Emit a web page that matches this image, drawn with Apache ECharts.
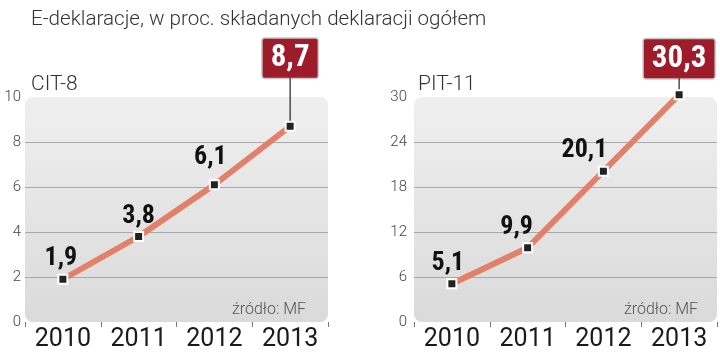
<!DOCTYPE html>
<html>
<head>
<meta charset="utf-8">
<script src="https://cdn.jsdelivr.net/npm/echarts@6/dist/echarts.min.js"></script>
<style>
  html, body { margin: 0; padding: 0; background: #fff; }
  #chart { width: 720px; height: 353px; }
</style>
</head>
<body>
<div id="chart"></div>
<script>
// data
const years = ['2010', '2011', '2012', '2013'];
const citValues = [1.9, 3.8, 6.1, 8.7];
const pitValues = [5.1, 9.9, 20.1, 30.3];
const citTicks = { max: 10, interval: 2 };
const pitTicks = { max: 30, interval: 6 };

// label nudges (px) for the plain value labels
const citOffsets = [[-2, 0], [0, 0], [-4, -7]];
const pitOffsets = [[-4, 0], [-11, 0], [-19, 0]];

const lineColor = '#e2806a';
const boxColor = '#9e1b2a';
const condensed = '"Roboto Condensed", Roboto, sans-serif';

// plot areas
const grids = [
  { left: 25, top: 97, width: 303, height: 225 },
  { left: 414, top: 97, width: 303, height: 225 }
];

const fmt = v => String(v).replace('.', ',');

function buildData(values, offsets, pixelsPerUnit, max) {
  return values.map((v, i) => {
    if (i < values.length - 1) {
      return {
        value: v,
        label: { offset: offsets[i] }
      };
    }
    // highlighted last value: red box with a stem down to the point
    const stem = Math.max(4, Math.round((max - v) * pixelsPerUnit + 18 - 4.5));
    return {
      value: v,
      label: {
        distance: 0,
        formatter: '{box|' + fmt(v) + '}\n{stem|}',
        rich: {
          box: {
            color: '#fff',
            fontFamily: condensed,
            fontWeight: 'bold',
            fontSize: 31,
            backgroundColor: boxColor,
            borderColor: '#c9c9c9',
            borderWidth: 1.5,
            borderRadius: 2,
            height: 39,
            lineHeight: 39,
            padding: [0, 8]
          },
          stem: {
            width: 1.2,
            height: stem,
            lineHeight: stem,
            backgroundColor: '#222'
          }
        }
      }
    };
  });
}

function yAxis(idx, ticks, margin) {
  return {
    type: 'value',
    gridIndex: idx,
    min: 0,
    max: ticks.max,
    interval: ticks.interval,
    axisLine: { show: false },
    axisTick: { show: false },
    axisLabel: {
      color: '#444',
      fontSize: 15,
      fontFamily: 'Roboto, sans-serif',
      fontWeight: 300,
      margin: margin
    },
    splitLine: {
      showMinLine: false,
      showMaxLine: false,
      lineStyle: { color: '#a9a9a9', width: 1 }
    }
  };
}

function xAxis(idx) {
  return {
    type: 'category',
    gridIndex: idx,
    data: years,
    offset: 6,
    axisLine: { show: false },
    axisTick: { show: true, length: 5, lineStyle: { color: '#777', width: 1 } },
    axisLabel: {
      color: '#1a1a1a',
      fontSize: 25,
      fontFamily: 'Roboto, sans-serif',
      margin: -1
    }
  };
}

function lineSeries(idx, data) {
  return {
    type: 'line',
    xAxisIndex: idx,
    yAxisIndex: idx,
    data: data,
    clip: false,
    symbol: 'rect',
    symbolSize: 9,
    lineStyle: { color: lineColor, width: 6 },
    itemStyle: { color: '#222', borderColor: '#fff', borderWidth: 2 },
    label: {
      show: true,
      position: 'top',
      distance: 2,
      color: '#111',
      fontFamily: condensed,
      fontWeight: 'bold',
      fontSize: 26,
      formatter: p => fmt(p.value)
    },
    z: 3
  };
}

function plotBackground(g) {
  return {
    type: 'rect',
    z: -1,
    shape: { x: g.left, y: g.top, width: g.width, height: g.height, r: 8 },
    style: {
      fill: new echarts.graphic.LinearGradient(0, 0, 0, 1, [
        { offset: 0, color: '#efefef' },
        { offset: 1, color: '#dadada' }
      ])
    }
  };
}

const chart = echarts.init(document.getElementById('chart'));
chart.setOption({
  animation: false,
  backgroundColor: '#fff',
  title: [
    {
      text: 'E-deklaracje, w proc. składanych deklaracji ogółem',
      left: 26,
      top: 4,
      textStyle: { color: '#333', fontSize: 20.6, fontWeight: 300, fontFamily: 'Roboto, sans-serif' }
    },
    {
      text: 'CIT-8',
      left: 26,
      top: 69,
      textStyle: { color: '#333', fontSize: 21, fontWeight: 300, fontFamily: 'Roboto, sans-serif' }
    },
    {
      text: 'PIT-11',
      left: 413,
      top: 69,
      textStyle: { color: '#333', fontSize: 21, fontWeight: 300, fontFamily: 'Roboto, sans-serif' }
    },
    {
      text: 'źródło: MF',
      right: 409,
      top: 297,
      textStyle: { color: '#555', fontSize: 16, fontWeight: 300, fontFamily: 'Roboto, sans-serif' }
    },
    {
      text: 'źródło: MF',
      right: 17,
      top: 297,
      textStyle: { color: '#555', fontSize: 16, fontWeight: 300, fontFamily: 'Roboto, sans-serif' }
    }
  ],
  graphic: grids.map(plotBackground),
  grid: grids,
  xAxis: [xAxis(0), xAxis(1)],
  yAxis: [yAxis(0, citTicks, 4), yAxis(1, pitTicks, 7)],
  series: [
    lineSeries(0, buildData(citValues, citOffsets, 225 / citTicks.max, citTicks.max)),
    lineSeries(1, buildData(pitValues, pitOffsets, 225 / pitTicks.max, pitTicks.max))
  ]
});
</script>
</body>
</html>
